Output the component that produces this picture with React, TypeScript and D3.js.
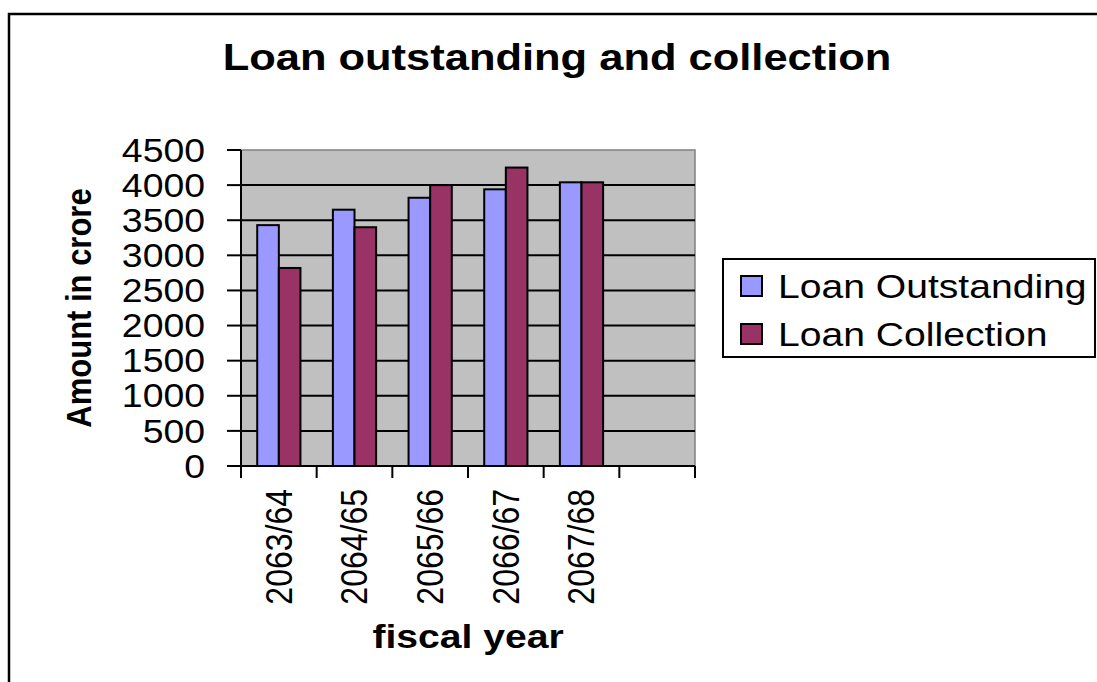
import React from "react";
import * as d3 from "d3";

const categories = ["2063/64", "2064/65", "2065/66", "2066/67", "2067/68", ""];
const loanOutstanding: (number | null)[] = [3430, 3650, 3820, 3940, 4040, null];
const loanCollection: (number | null)[] = [2820, 3400, 4000, 4250, 4040, null];
const seriesNames = ["Loan Outstanding", "Loan Collection"];
const seriesColors = ["#9999FF", "#993366"];
const yTicks = [0, 500, 1000, 1500, 2000, 2500, 3000, 3500, 4000, 4500];

const W = 1097;
const H = 682;
const FONT = "'Liberation Sans', Arial, Helvetica, sans-serif";
const SX = 1.15;

export default function App() {
  const plot = { left: 241, right: 695, top: 150, bottom: 466 };
  const x = d3.scaleBand<string>().domain(categories).range([plot.left, plot.right]).padding(0);
  const y = d3.scaleLinear().domain([0, 4500]).range([plot.bottom, plot.top]);
  const bw = x.bandwidth() / 3.5;
  const series = [loanOutstanding, loanCollection];

  const boundaries = d3.range(categories.length + 1).map((i) => plot.left + i * x.step());

  return (
    <svg
      width={W}
      height={H}
      style={{ position: "absolute", left: 0, top: 0, background: "#fff" }}
      fontFamily={FONT}
    >
      <rect x={0} y={0} width={W} height={H} fill="#fff" />
      {/* chart frame */}
      <rect x={9} y={14} width={W + 20} height={H + 20} fill="none" stroke="#000" strokeWidth={2.5} />

      {/* title */}
      <g transform={`translate(557, 70) scale(${SX},1)`}>
        <text textAnchor="middle" fontSize={37.8} fontWeight="bold" fill="#000">
          Loan outstanding and collection
        </text>
      </g>

      {/* plot area */}
      <rect
        x={plot.left}
        y={plot.top}
        width={plot.right - plot.left}
        height={plot.bottom - plot.top}
        fill="#C0C0C0"
        stroke="#808080"
        strokeWidth={1.5}
      />

      {/* gridlines */}
      {yTicks.slice(1, -1).map((t) => (
        <line key={t} x1={plot.left} x2={plot.right} y1={y(t)} y2={y(t)} stroke="#000" strokeWidth={2} />
      ))}

      {/* bars */}
      {series.map((vals, si) =>
        categories.map((c, ci) => {
          const v = vals[ci];
          if (v == null) return null;
          const bx = (x(c) as number) + 0.75 * bw + si * bw;
          return (
            <rect
              key={`${si}-${ci}`}
              x={bx}
              y={y(v)}
              width={bw}
              height={y(0) - y(v)}
              fill={seriesColors[si]}
              stroke="#000"
              strokeWidth={2}
            />
          );
        })
      )}

      {/* axes */}
      <line x1={plot.left} x2={plot.left} y1={plot.top} y2={plot.bottom} stroke="#000" strokeWidth={2} />
      <line x1={plot.left - 1} x2={plot.right} y1={plot.bottom} y2={plot.bottom} stroke="#000" strokeWidth={2} />

      {/* y ticks and labels */}
      {yTicks.map((t) => (
        <g key={t}>
          <line x1={plot.left - 14} x2={plot.left} y1={y(t)} y2={y(t)} stroke="#000" strokeWidth={2} />
          <g transform={`translate(205, ${y(t)}) scale(${SX},1)`}>
            <text textAnchor="end" dy="0.36em" fontSize={32.5} fill="#000">
              {t}
            </text>
          </g>
        </g>
      ))}

      {/* x ticks */}
      {boundaries.map((bx, i) => (
        <line key={i} x1={bx} x2={bx} y1={plot.bottom} y2={plot.bottom + 12} stroke="#000" strokeWidth={2} />
      ))}

      {/* x labels */}
      {categories.map((c) =>
        c ? (
          <g
            key={c}
            transform={`translate(${(x(c) as number) + x.bandwidth() / 2}, 489) scale(${SX},1) rotate(-90)`}
          >
            <text textAnchor="end" dy="0.35em" fontSize={32} fill="#000">
              {c}
            </text>
          </g>
        ) : null
      )}

      {/* axis titles */}
      <g transform={`translate(${(plot.left + plot.right) / 2}, 648) scale(${SX},1)`}>
        <text textAnchor="middle" fontSize={34} fontWeight="bold" fill="#000">
          fiscal year
        </text>
      </g>
      <g transform={`translate(91, ${(plot.top + plot.bottom) / 2}) scale(${SX},1) rotate(-90)`}>
        <text textAnchor="middle" fontSize={31} fontWeight="bold" fill="#000">
          Amount in crore
        </text>
      </g>

      {/* legend */}
      <rect x={723} y={259} width={372} height={98} fill="#fff" stroke="#000" strokeWidth={2} />
      {seriesNames.map((n, i) => (
        <g key={n}>
          <rect
            x={741}
            y={276 + i * 48}
            width={21}
            height={20}
            fill={seriesColors[i]}
            stroke="#000"
            strokeWidth={2}
          />
          <g transform={`translate(778, ${286 + i * 48}) scale(${SX},1)`}>
            <text dy="0.36em" fontSize={34} fill="#000">
              {n}
            </text>
          </g>
        </g>
      ))}
    </svg>
  );
}
